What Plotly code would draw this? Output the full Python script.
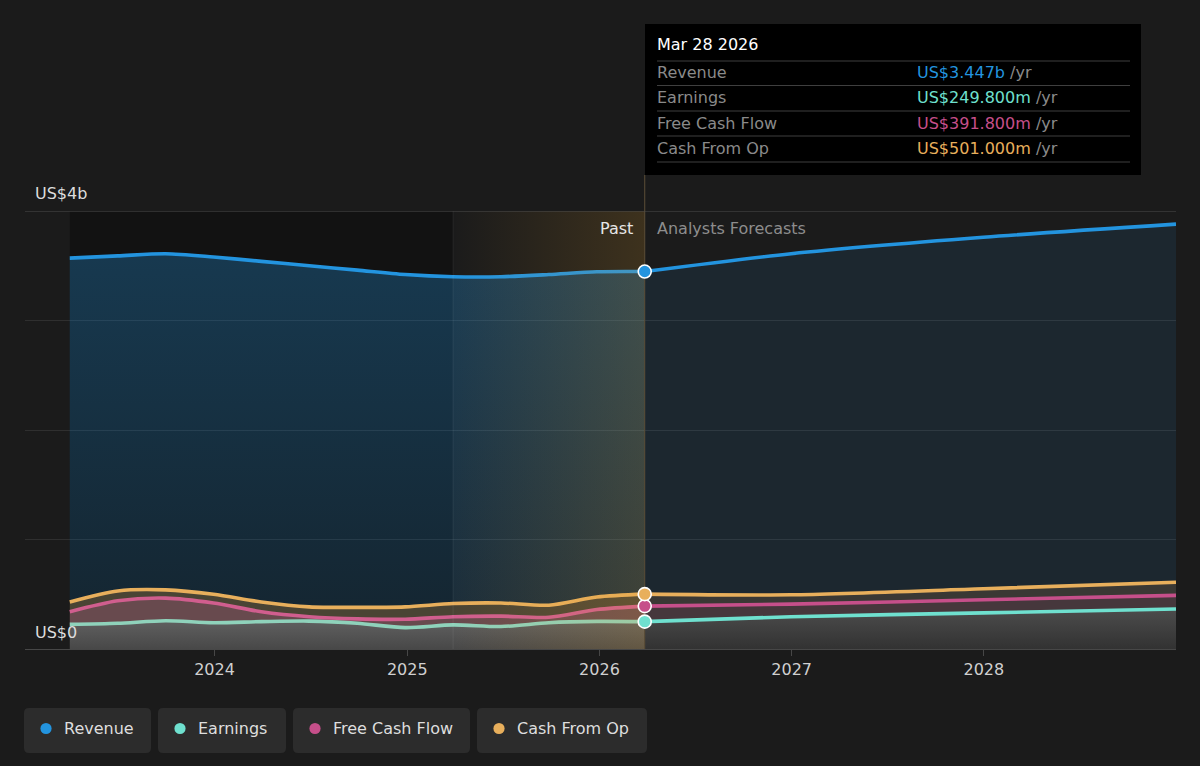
import plotly.graph_objects as go

# ---------------- data ----------------
past_dates = ["2023-04-01", "2023-07-01", "2023-09-30", "2023-12-30", "2024-03-30",
              "2024-06-29", "2024-09-28", "2024-12-28", "2025-03-29", "2025-06-28",
              "2025-09-27", "2025-12-27", "2026-03-28"]
forecast_dates = ["2026-03-28", "2026-12-31", "2027-12-31", "2028-12-31"]

revenue_past = [3.57, 3.59, 3.61, 3.58, 3.54, 3.50, 3.46, 3.42, 3.40, 3.40, 3.42, 3.445, 3.447]
earnings_past = [0.225, 0.235, 0.258, 0.24, 0.25, 0.255, 0.235, 0.195, 0.22, 0.205, 0.24, 0.252, 0.2498]
fcf_past = [0.34, 0.44, 0.465, 0.42, 0.34, 0.295, 0.275, 0.272, 0.295, 0.30, 0.29, 0.36, 0.3918]
cfo_past = [0.43, 0.53, 0.54, 0.50, 0.43, 0.385, 0.38, 0.385, 0.415, 0.42, 0.40, 0.475, 0.501]

revenue_forecast = [3.447, 3.61, 3.76, 3.88]
earnings_forecast = [0.2498, 0.295, 0.33, 0.365]
fcf_forecast = [0.3918, 0.41, 0.45, 0.49]
cfo_forecast = [0.501, 0.495, 0.55, 0.61]

series_names = ["Revenue", "Earnings", "Free Cash Flow", "Cash From Op"]
tooltip_values = ["US$3.447b", "US$249.800m", "US$391.800m", "US$501.000m"]
tooltip_date = "Mar 28 2026"
x_tick_vals = ["2024-01-01", "2025-01-01", "2026-01-01", "2027-01-01", "2028-01-01"]
x_tick_text = ["2024", "2025", "2026", "2027", "2028"]
y_labels = ["US$0", "US$4b"]
x_range = ["2023-01-06", "2028-12-31"]
y_range = [0, 4]

# ---------------- styles ----------------
BG = "#1b1b1b"
C_REV = "#2394df"
C_EARN = "#6fe0cf"
C_FCF = "#c64f8a"
C_CFO = "#e8af5c"
FONT = "DejaVu Sans"

W, H = 1200, 766
L, R, T, B = 25, 24, 211, 117
PW, PH = W - L - R, H - T - B


def X(px):
    return (px - L) / PW


def Y(py):
    return (H - B - py) / PH


fig = go.Figure()


def band(x, y, fill, color=None, grad=None):
    d = dict(x=x, y=y, mode="lines", line=dict(width=0, shape="spline", smoothing=0.8),
             fill=fill, hoverinfo="skip", showlegend=False)
    if grad is not None:
        d["fillgradient"] = grad
    else:
        d["fillcolor"] = color
    fig.add_trace(go.Scatter(**d))


# past bands
band(past_dates, earnings_past, "tozeroy",
     grad=dict(type="vertical", start=0, stop=0.26,
               colorscale=[[0, "rgb(72,72,72)"], [1, "rgb(96,96,96)"]]))
band(past_dates, fcf_past, "tonexty", color="rgb(104,74,78)")
band(past_dates, cfo_past, "tonexty", color="rgb(74,68,52)")
band(past_dates, revenue_past, "tonexty",
     grad=dict(type="vertical", start=0, stop=3.6,
               colorscale=[[0, "rgba(35,148,223,0.14)"], [1, "rgba(35,148,223,0.30)"]]))
# forecast bands
band(forecast_dates, earnings_forecast, "tozeroy",
     grad=dict(type="vertical", start=0, stop=0.36,
               colorscale=[[0, "rgb(50,50,50)"], [1, "rgb(76,76,76)"]]))
band(forecast_dates, fcf_forecast, "tonexty", color="rgb(70,55,60)")
band(forecast_dates, cfo_forecast, "tonexty", color="rgb(58,56,52)")
band(forecast_dates, revenue_forecast, "tonexty", color="rgba(35,148,223,0.10)")

# lines
for xs, ys, c in [
    (past_dates, revenue_past, C_REV), (past_dates, earnings_past, "#8fd2bb"),
    (past_dates, fcf_past, "#d05e8e"), (past_dates, cfo_past, C_CFO),
    (forecast_dates, revenue_forecast, C_REV), (forecast_dates, earnings_forecast, C_EARN),
    (forecast_dates, fcf_forecast, C_FCF), (forecast_dates, cfo_forecast, C_CFO),
]:
    fig.add_trace(go.Scatter(x=xs, y=ys, mode="lines",
                             line=dict(color=c, width=3.6, shape="spline", smoothing=0.8),
                             hoverinfo="skip", showlegend=False))

# past-year highlight overlay
hl_start, hl_end = past_dates[-5], past_dates[-1]
fig.add_trace(go.Scatter(
    x=[hl_start, hl_end, hl_end, hl_start, hl_start], y=[0, 0, 4, 4, 0],
    mode="lines", line=dict(width=0), fill="toself",
    fillgradient=dict(type="horizontal",
                      colorscale=[[0, "rgba(230,160,40,0.0)"], [1, "rgba(230,160,40,0.17)"]]),
    hoverinfo="skip", showlegend=False))

# "now" vertical line inside plot (below markers)
fig.add_trace(go.Scatter(x=[hl_end, hl_end], y=[0, 4], mode="lines",
                         line=dict(color="#5c4d36", width=1), hoverinfo="skip", showlegend=False))

# boundary markers
fig.add_trace(go.Scatter(
    x=[past_dates[-1]] * 4,
    y=[revenue_past[-1], earnings_past[-1], fcf_past[-1], cfo_past[-1]],
    mode="markers", cliponaxis=False,
    marker=dict(size=13, color=[C_REV, C_EARN, C_FCF, C_CFO], line=dict(color="white", width=1.6)),
    hoverinfo="skip", showlegend=False))

shapes = []
# darker past region background
shapes.append(dict(type="rect", xref="x", yref="y", x0=past_dates[0], x1=hl_start, y0=0, y1=4,
                   fillcolor="rgba(0,0,0,0.3)", line=dict(width=0), layer="below"))
# thin line at highlight start
shapes.append(dict(type="line", xref="x", yref="y", x0=hl_start, x1=hl_start, y0=0, y1=4,
                   line=dict(color="rgba(255,255,255,0.07)", width=1), layer="above"))
# top line at 4b
shapes.append(dict(type="line", xref="paper", yref="y", x0=0, x1=1, y0=4, y1=4,
                   line=dict(color="#4d4d4d", width=1), layer="above"))
# vertical "now" line above the plot area up to the tooltip
shapes.append(dict(type="line", xref="x", yref="paper", x0=hl_end, x1=hl_end,
                   y0=1, y1=Y(175), line=dict(color="#5c4d36", width=1), layer="above"))
# tooltip box
shapes.append(dict(type="rect", xref="paper", yref="paper", x0=X(645), x1=X(1141), y0=Y(175), y1=Y(24),
                   fillcolor="#000000", line=dict(width=0), layer="above"))
for sy in [61, 85.5, 111, 136, 162]:
    shapes.append(dict(type="line", xref="paper", yref="paper", x0=X(657), x1=X(1130), y0=Y(sy), y1=Y(sy),
                       line=dict(color="#3f3f3f", width=1), layer="above"))


def rounded(x0, y0, x1, y1, r, color):
    p = (f"M {X(x0 + r)},{Y(y0)} L {X(x1 - r)},{Y(y0)} Q {X(x1)},{Y(y0)} {X(x1)},{Y(y0 + r)} "
         f"L {X(x1)},{Y(y1 - r)} Q {X(x1)},{Y(y1)} {X(x1 - r)},{Y(y1)} "
         f"L {X(x0 + r)},{Y(y1)} Q {X(x0)},{Y(y1)} {X(x0)},{Y(y1 - r)} "
         f"L {X(x0)},{Y(y0 + r)} Q {X(x0)},{Y(y0)} {X(x0 + r)},{Y(y0)} Z")
    return dict(type="path", xref="paper", yref="paper", path=p, fillcolor=color,
                line=dict(width=0), layer="above")


legend_boxes = [(24, 151), (158, 286), (293, 470), (477, 647)]
legend_colors = [C_REV, C_EARN, C_FCF, C_CFO]
annotations = []
for (bx0, bx1), col, name in zip(legend_boxes, legend_colors, series_names):
    shapes.append(rounded(bx0, 708, bx1, 753, 5, "#2c2c2c"))
    cx, cy = bx0 + 22, 728.5
    shapes.append(dict(type="circle", xref="paper", yref="paper", x0=X(cx - 5.6), x1=X(cx + 5.6),
                       y0=Y(cy + 5.6), y1=Y(cy - 5.6), fillcolor=col, line=dict(width=0), layer="above"))
    annotations.append(dict(x=X(bx0 + 38), y=Y(728), xref="paper", yref="paper", text=name,
                            showarrow=False, xanchor="left", yanchor="middle",
                            font=dict(family=FONT, size=16, color="#dedede")))

# y labels
annotations.append(dict(x=X(33), y=Y(632), xref="paper", yref="paper", text=y_labels[0], showarrow=False,
                        xanchor="left", yanchor="middle", font=dict(family=FONT, size=16, color="#dddddd")))
annotations.append(dict(x=X(33), y=Y(193), xref="paper", yref="paper", text=y_labels[1], showarrow=False,
                        xanchor="left", yanchor="middle", font=dict(family=FONT, size=16, color="#dddddd")))
# Past / Forecast labels
annotations.append(dict(x=X(635), y=Y(228), xref="paper", yref="paper", text="Past", showarrow=False,
                        xanchor="right", yanchor="middle", font=dict(family=FONT, size=16, color="#e6e6e6")))
annotations.append(dict(x=X(655), y=Y(228), xref="paper", yref="paper", text="Analysts Forecasts",
                        showarrow=False, xanchor="left", yanchor="middle",
                        font=dict(family=FONT, size=16, color="#8d8d8d")))
# tooltip text
annotations.append(dict(x=X(655), y=Y(45), xref="paper", yref="paper", text=tooltip_date, showarrow=False,
                        xanchor="left", yanchor="middle", font=dict(family=FONT, size=16, color="#ffffff")))
for i, (name, val, col) in enumerate(zip(series_names, tooltip_values, legend_colors)):
    ry = [72, 97, 123, 148][i]
    annotations.append(dict(x=X(655), y=Y(ry), xref="paper", yref="paper", text=name, showarrow=False,
                            xanchor="left", yanchor="middle", font=dict(family=FONT, size=16, color="#8a8a8a")))
    annotations.append(dict(x=X(915), y=Y(ry), xref="paper", yref="paper",
                            text=f"<span style='color:{col}'>{val}</span> /yr", showarrow=False,
                            xanchor="left", yanchor="middle", font=dict(family=FONT, size=16, color="#8a8a8a")))

fig.update_layout(
    width=W, height=H, margin=dict(l=L, r=R, t=T, b=B),
    paper_bgcolor=BG, plot_bgcolor=BG,
    showlegend=False, hovermode=False,
    shapes=shapes, annotations=annotations,
    xaxis=dict(type="date", range=x_range, tickvals=x_tick_vals, ticktext=x_tick_text,
               showgrid=False, zeroline=False, showline=True, linecolor="#474747", linewidth=1,
               ticks="outside", ticklen=6, tickcolor="#474747",
               tickfont=dict(family=FONT, size=16, color="#d0d0d0"), fixedrange=True),
    yaxis=dict(range=y_range, tickvals=[0, 1, 2, 3, 4], showticklabels=False, showgrid=True,
               gridcolor="rgba(255,255,255,0.09)", gridwidth=1, zeroline=False, showline=False,
               fixedrange=True),
)

fig.write_html("out.html", config={"displayModeBar": False})
